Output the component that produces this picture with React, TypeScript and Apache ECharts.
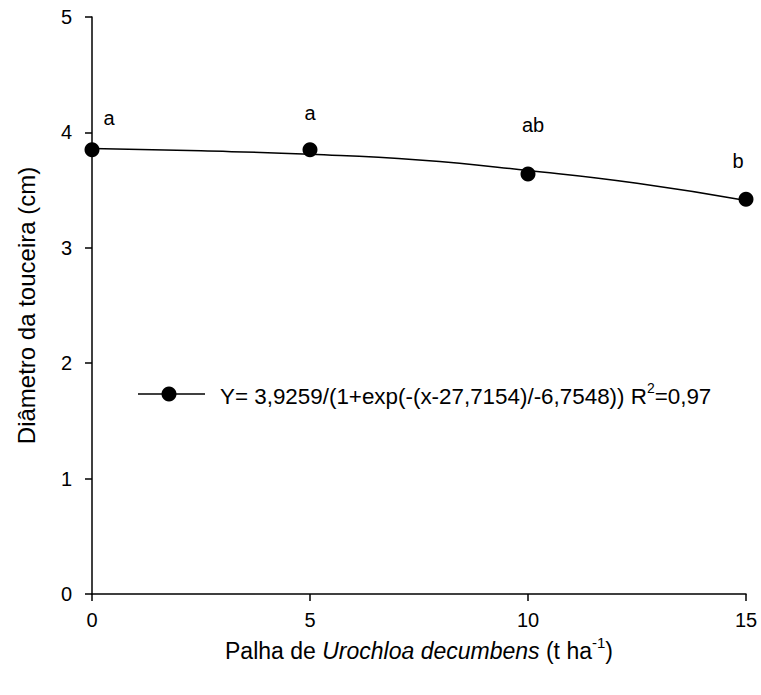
import React, { useEffect, useRef } from "react";
import * as echarts from "echarts";

const doses = [0, 5, 10, 15];
const diameters = [3.85, 3.85, 3.64, 3.42];
const letters = ["a", "a", "ab", "b"];
const curveX = [0, 2.5, 5, 7.5, 10, 12.5, 15];
const curveY = [3.86, 3.84, 3.81, 3.76, 3.67, 3.56, 3.41];
const yTicks = [0, 1, 2, 3, 4, 5];
const xTicks = [0, 5, 10, 15];

const FONT = "'Liberation Sans', Arial, sans-serif";
const letterOffsets: [number, number][] = [
  [17, -32],
  [0, -37],
  [5, -49],
  [-8, -38],
];

export default function App() {
  const ref = useRef<HTMLDivElement>(null);
  useEffect(() => {
    if (!ref.current) return;
    const chart = echarts.init(ref.current, null, { renderer: "svg" });
    chart.setOption({
      animation: false,
      backgroundColor: "#fff",
      textStyle: { fontFamily: FONT },
      grid: { left: 92, right: 15, top: 17, bottom: 101, containLabel: false },
      xAxis: {
        type: "value",
        min: xTicks[0],
        max: xTicks[xTicks.length - 1],
        interval: 5,
        splitLine: { show: false },
        axisLine: { show: true, onZero: false, lineStyle: { color: "#000", width: 1.5 } },
        axisTick: { show: true, length: 7, lineStyle: { color: "#000", width: 1.5 } },
        axisLabel: { color: "#000", fontSize: 20, margin: 16, fontFamily: FONT },
        name: "{n|Palha de }{i|Urochloa decumbens}{n| (t ha}{s|-1}{n|)}",
        nameLocation: "middle",
        nameGap: 40,
        nameTextStyle: {
          rich: {
            n: { fontSize: 23, color: "#000", fontFamily: FONT, verticalAlign: "bottom", lineHeight: 28 },
            i: { fontSize: 23, color: "#000", fontFamily: FONT, fontStyle: "italic", verticalAlign: "bottom", lineHeight: 28 },
            s: { fontSize: 15, color: "#000", fontFamily: FONT, verticalAlign: "top", lineHeight: 28, padding: [0, 0, 13, 0] },
          },
        },
      },
      yAxis: {
        type: "value",
        min: yTicks[0],
        max: yTicks[yTicks.length - 1],
        interval: 1,
        splitLine: { show: false },
        axisLine: { show: true, onZero: false, lineStyle: { color: "#000", width: 1.5 } },
        axisTick: { show: true, length: 7, lineStyle: { color: "#000", width: 1.5 } },
        axisLabel: { color: "#000", fontSize: 20, margin: 20, fontFamily: FONT },
        name: "Diâmetro da touceira (cm)",
        nameLocation: "middle",
        nameGap: 54,
        nameTextStyle: { fontSize: 24, color: "#000", fontFamily: FONT },
      },
      graphic: [
        {
          type: "line",
          shape: { x1: 138, y1: 394, x2: 205, y2: 394 },
          style: { stroke: "#000", lineWidth: 1.5 },
        },
        {
          type: "circle",
          shape: { cx: 169, cy: 394, r: 7.5 },
          style: { fill: "#000" },
        },
        {
          type: "text",
          x: 220,
          y: 394,
          style: {
            text: "{n|Y= 3,9259/(1+exp(-(x-27,7154)/-6,7548)) R}{s|2}{n|=0,97}",
            verticalAlign: "middle",
            rich: {
              n: { fontSize: 22.4, fill: "#000", fontFamily: FONT, verticalAlign: "bottom", lineHeight: 26 },
              s: { fontSize: 14, fill: "#000", fontFamily: FONT, verticalAlign: "top", lineHeight: 26, padding: [0, 0, 12, 0] },
            },
          },
        },
      ],
      series: [
        {
          type: "line",
          data: curveX.map((x, i) => [x, curveY[i]]),
          smooth: true,
          showSymbol: false,
          symbol: "none",
          lineStyle: { color: "#000", width: 1.5 },
          z: 2,
        },
        {
          type: "scatter",
          data: doses.map((x, i) => ({
            value: [x, diameters[i]],
            label: {
              show: true,
              formatter: letters[i],
              position: "inside",
              offset: letterOffsets[i],
              color: "#000",
              fontSize: 20,
              fontFamily: FONT,
            },
          })),
          symbol: "circle",
          symbolSize: 15,
          itemStyle: { color: "#000", opacity: 1 },
          z: 3,
        },
      ],
    });
    return () => chart.dispose();
  }, []);
  return <div ref={ref} style={{ width: 761, height: 695, position: "absolute", left: 0, top: 0 }} />;
}
